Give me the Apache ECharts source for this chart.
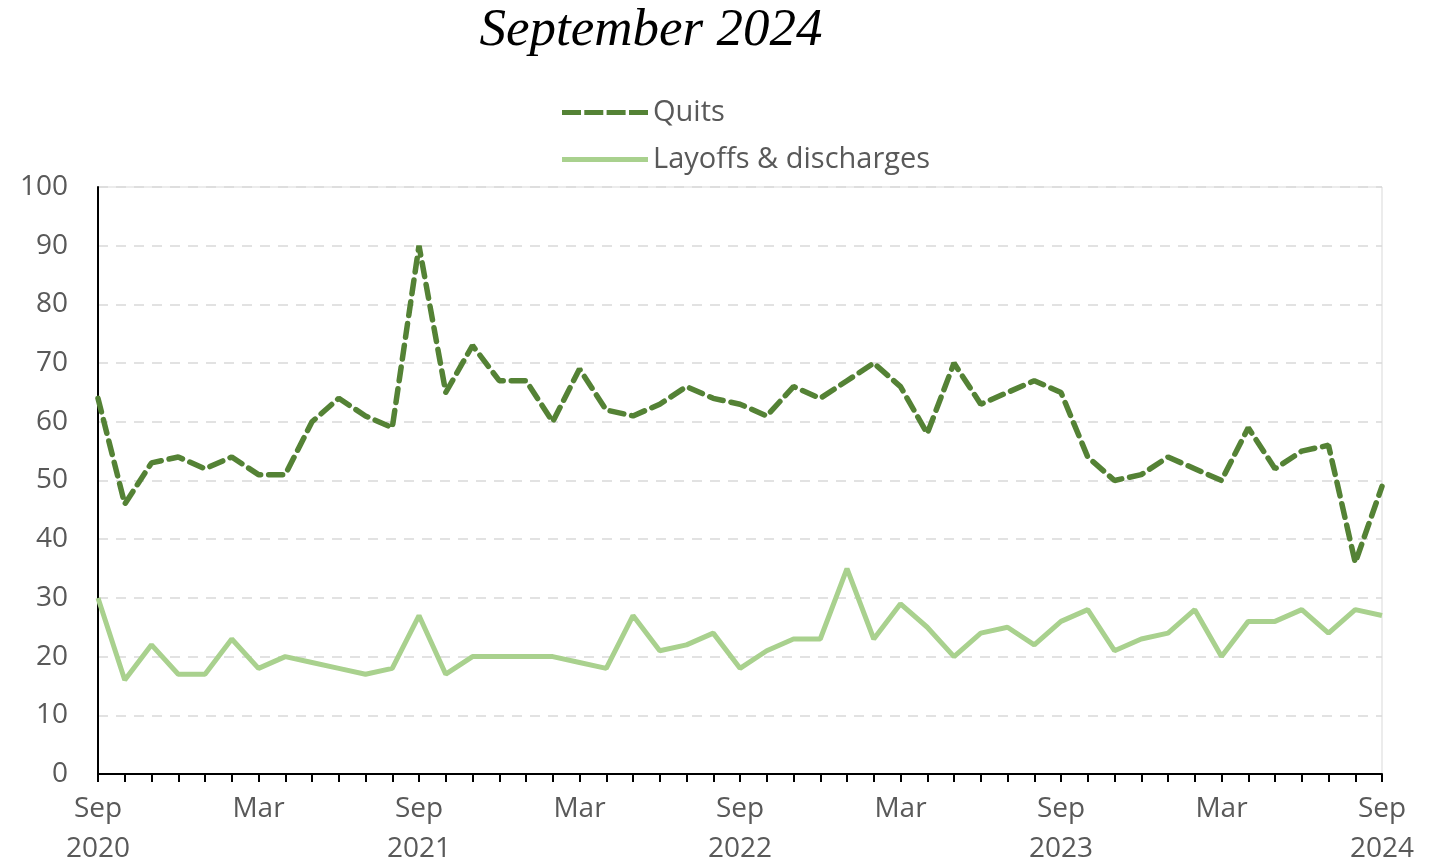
<!DOCTYPE html>
<html>
<head>
<meta charset="utf-8">
<script src="https://cdn.jsdelivr.net/npm/echarts@6/dist/echarts.min.js"></script>
<style>
  html, body { margin: 0; padding: 0; background: #fff; }
  #main { width: 1432px; height: 863px; }
</style>
</head>
<body>
<div id="main"></div>
<script>
var chartDom = document.getElementById('main');
var myChart = echarts.init(chartDom);
var option;

// monthly, Sep 2020 .. Sep 2024
var months = [
    'Sep 2020', 'Oct 2020', 'Nov 2020', 'Dec 2020',
    'Jan 2021', 'Feb 2021', 'Mar 2021', 'Apr 2021', 'May 2021', 'Jun 2021',
    'Jul 2021', 'Aug 2021', 'Sep 2021', 'Oct 2021', 'Nov 2021', 'Dec 2021',
    'Jan 2022', 'Feb 2022', 'Mar 2022', 'Apr 2022', 'May 2022', 'Jun 2022',
    'Jul 2022', 'Aug 2022', 'Sep 2022', 'Oct 2022', 'Nov 2022', 'Dec 2022',
    'Jan 2023', 'Feb 2023', 'Mar 2023', 'Apr 2023', 'May 2023', 'Jun 2023',
    'Jul 2023', 'Aug 2023', 'Sep 2023', 'Oct 2023', 'Nov 2023', 'Dec 2023',
    'Jan 2024', 'Feb 2024', 'Mar 2024', 'Apr 2024', 'May 2024', 'Jun 2024',
    'Jul 2024', 'Aug 2024', 'Sep 2024'
];

var quits = [
    64, 46, 53, 54, 52, 54, 51, 51, 60, 64, 61, 59,
    90, 65, 73, 67, 67, 60, 69, 62, 61, 63, 66, 64,
    63, 61, 66, 64, 67, 70, 66, 58, 70, 63, 65, 67,
    65, 54, 50, 51, 54, 52, 50, 59, 52, 55, 56, 36,
    49
];

var layoffs = [
    30, 16, 22, 17, 17, 23, 18, 20, 19, 18, 17, 18,
    27, 17, 20, 20, 20, 20, 19, 18, 27, 21, 22, 24,
    18, 21, 23, 23, 35, 23, 29, 25, 20, 24, 25, 22,
    26, 28, 21, 23, 24, 28, 20, 26, 26, 28, 24, 28,
    27
];

var yTicks = [0, 10, 20, 30, 40, 50, 60, 70, 80, 90, 100];

var labelFont = 'Open Sans, Noto Sans, sans-serif';
var textGray = '#595959';
var dark = '#548235';
var light = '#a9d18e';

// legend swatches drawn as paths (dashed / solid line look)
var dashIcon = 'path://M0,0h19v5h-19z M22.3,0h19v5h-19z M44.6,0h19v5h-19z M67,0h19v5h-19z';
var solidIcon = 'path://M0,0h86v5h-86z';

option = {
    backgroundColor: '#fff',
    animation: false,
    title: {
        text: 'September 2024',
        left: 646,
        textAlign: 'center',
        top: 0,
        textStyle: {
            fontFamily: 'Liberation Serif, Times New Roman, serif',
            fontStyle: 'italic',
            fontWeight: 'normal',
            fontSize: 53,
            color: '#000'
        }
    },
    legend: {
        orient: 'vertical',
        left: 557,
        top: 93,
        itemWidth: 86,
        itemHeight: 5,
        itemGap: 18,
        textStyle: {
            fontFamily: labelFont,
            fontSize: 29,
            color: textGray,
            padding: [0, 0, 0, 0]
        },
        data: [
            { name: 'Quits', icon: dashIcon, itemStyle: { color: dark } },
            { name: 'Layoffs & discharges', icon: solidIcon, itemStyle: { color: light } }
        ]
    },
    grid: {
        left: 98,
        right: 50,
        top: 187,
        bottom: 89,
        show: true,
        borderColor: '#d9d9d9',
        borderWidth: 1,
        containLabel: false,
        outerBoundsMode: 'none'
    },
    xAxis: {
        type: 'category',
        data: months,
        boundaryGap: false,
        axisLine: { lineStyle: { color: '#000', width: 2 } },
        axisTick: {
            show: true,
            interval: 0,
            length: 8,
            lineStyle: { color: '#000', width: 2 }
        },
        axisLabel: {
            interval: 5,
            margin: 15,
            fontFamily: labelFont,
            fontSize: 28,
            lineHeight: 40,
            color: textGray,
            formatter: function (v) {
                var p = v.split(' ');
                return p[0] === 'Sep' ? p[0] + '\n' + p[1] : p[0];
            }
        },
        splitLine: { show: false }
    },
    yAxis: {
        type: 'value',
        min: yTicks[0],
        max: yTicks[yTicks.length - 1],
        interval: 10,
        axisLine: { show: true, lineStyle: { color: '#000', width: 2 } },
        axisTick: { show: false },
        axisLabel: {
            margin: 30,
            fontFamily: labelFont,
            fontSize: 28,
            color: textGray
        },
        splitLine: {
            lineStyle: { color: '#d9d9d9', type: [10, 8], width: 1.5 }
        }
    },
    series: [
        {
            name: 'Quits',
            type: 'line',
            data: quits,
            symbol: 'none',
            lineStyle: {
                color: dark,
                width: 5.5,
                type: [14, 8],
                cap: 'round'
            },
            itemStyle: { color: dark },
            z: 3
        },
        {
            name: 'Layoffs & discharges',
            type: 'line',
            data: layoffs,
            symbol: 'none',
            lineStyle: {
                color: light,
                width: 5
            },
            itemStyle: { color: light },
            z: 2
        }
    ]
};

option && myChart.setOption(option);
</script>
</body>
</html>
